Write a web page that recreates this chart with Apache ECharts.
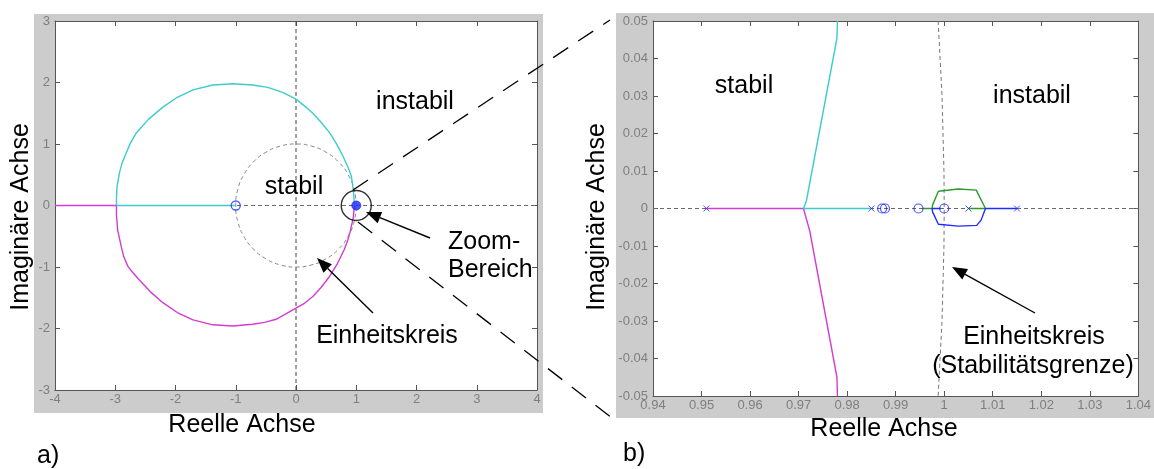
<!DOCTYPE html>
<html>
<head>
<meta charset="utf-8">
<script src="https://cdn.jsdelivr.net/npm/echarts@6/dist/echarts.min.js"></script>
<style>
  html, body { margin: 0; padding: 0; background: #fff; }
  #chart { width: 1154px; height: 469px; }
</style>
</head>
<body>
<div id="chart"></div>
<script>
  // ---- data ----
  // a) overview: root locus in the z-plane
  var leftUpperLocus = [[0.97,0],[0.96,0.15],[0.95,0.26],[0.92,0.47],[0.86,0.63],[0.78,0.8],[0.68,0.99],[0.56,1.18],[0.42,1.35],[0.28,1.5],
    [0.14,1.62],[0,1.73],[-0.22,1.84],[-0.47,1.92],[-0.72,1.96],[-1.05,1.98],[-1.38,1.96],[-1.71,1.88],[-1.97,1.76],[-2.21,1.6],
    [-2.45,1.4],[-2.65,1.18],[-2.75,1.01],[-2.82,0.85],[-2.89,0.68],[-2.93,0.53],[-2.97,0.31],[-2.98,0.12],[-2.98,0]];
  var leftLowerLocus = [[0.97,0],[0.96,-0.1],[0.95,-0.2],[0.9,-0.42],[0.86,-0.56],[0.8,-0.72],[0.69,-0.94],[0.56,-1.15],[0.42,-1.33],[0.28,-1.48],
    [0.14,-1.59],[0,-1.67],[-0.33,-1.85],[-0.52,-1.9],[-0.72,-1.93],[-1.05,-1.96],[-1.38,-1.94],[-1.71,-1.86],[-1.97,-1.74],[-2.21,-1.58],
    [-2.42,-1.4],[-2.6,-1.21],[-2.71,-1.09],[-2.79,-0.99],[-2.86,-0.83],[-2.9,-0.67],[-2.96,-0.4],[-2.98,-0.15],[-2.98,0]];
  var leftRealCyan = [[-2.98,0],[-1,0]];
  var leftRealMagenta = [[-4,0],[-2.98,0]];
  var leftZeros = [[-1,0]];
  var leftCluster = [[1,0]];
  var leftZoomArea = [[1,0]];
  var unitCircle = [[1,0],[0.9659,0.2588],[0.866,0.5],[0.7071,0.7071],[0.5,0.866],[0.2588,0.9659],[0,1],
    [-0.2588,0.9659],[-0.5,0.866],[-0.7071,0.7071],[-0.866,0.5],[-0.9659,0.2588],[-1,0],
    [-0.9659,-0.2588],[-0.866,-0.5],[-0.7071,-0.7071],[-0.5,-0.866],[-0.2588,-0.9659],[0,-1],
    [0.2588,-0.9659],[0.5,-0.866],[0.7071,-0.7071],[0.866,-0.5],[0.9659,-0.2588],[1,0]];

  // b) zoom around z = 1
  var rightMagenta = [[0.951,0],[0.971,0],[0.9723,-0.006],[0.9779,-0.045],[0.978,-0.05]];
  var rightCyan = [[0.985,0],[0.971,0],[0.9716,0.002],[0.9779,0.0454],[0.978,0.05]];
  var rightGreen = [[1.005,0],[1.0085,0],[1.0066,0.0049],[1.0029,0.0052],[0.9988,0.0046],[0.9976,0.0009],[0.9975,0],[0.9955,0]];
  var rightBlue = [[1.015,0],[1.0085,0],[1.0076,-0.0031],[1.0067,-0.0045],[1.0029,-0.0047],[0.9988,-0.0042],[0.9976,-0.0009],[0.9975,0],[0.9993,0]];
  var rightPoles = [[0.951,0],[0.985,0],[1.005,0],[1.015,0]];
  var rightZeros = [[0.9872,0],[0.9878,0],[0.9947,0],[1.0,0]];
  var rightUnitCircle = [[0.99875,0.05],[0.99955,0.03],[0.99995,0.01],[1,0],[0.99995,-0.01],[0.99955,-0.03],[0.99875,-0.05]];

  var leftXTicks = { min: -4, max: 4, interval: 1 };
  var leftYTicks = { min: -3, max: 3, interval: 1 };
  var rightXTicks = { min: 0.94, max: 1.04, interval: 0.01 };
  var rightYTicks = { min: -0.05, max: 0.05, interval: 0.01 };

  var FONT = '"Liberation Sans", Arial, sans-serif';
  var CYAN = '#3ccccc', MAGENTA = '#d23cd2', BLUE = '#1f2cff', GREEN = '#2e9a2e';
  var crossPath = 'path://M0,0L10,10M10,0L0,10';

  function fmt(v) { return String(+(+v).toFixed(2)); }

  function xAxis(grid, pos, t) {
    return {
      type: 'value', gridIndex: grid, position: pos, min: t.min, max: t.max, interval: t.interval,
      axisLine: { show: true, onZero: false, lineStyle: { color: '#555', width: 1 } },
      axisTick: { show: true, inside: true, length: 5, lineStyle: { color: '#555' } },
      axisLabel: { show: pos === 'bottom', color: '#7f7f7f', fontSize: 13, fontFamily: FONT, margin: 3, formatter: fmt },
      splitLine: { show: false }
    };
  }
  function yAxis(grid, pos, t) {
    return {
      type: 'value', gridIndex: grid, position: pos, min: t.min, max: t.max, interval: t.interval,
      axisLine: { show: true, onZero: false, lineStyle: { color: '#555', width: 1 } },
      axisTick: { show: true, inside: true, length: 5, lineStyle: { color: '#555' } },
      axisLabel: { show: pos === 'left', color: '#7f7f7f', fontSize: 13, fontFamily: FONT, margin: 5, formatter: fmt },
      splitLine: { show: false }
    };
  }

  function line(ax, data, color) {
    return {
      type: 'line', xAxisIndex: ax, yAxisIndex: ax, data: data, symbol: 'none', silent: true,
      lineStyle: { color: color, width: 1.4 }, z: 3
    };
  }
  function dashed(ax, data, color) {
    return {
      type: 'line', xAxisIndex: ax, yAxisIndex: ax, data: data, symbol: 'none', silent: true, smooth: ax === 0 && data.length > 2,
      lineStyle: { color: color, width: 1, type: [4, 3] }, z: 2
    };
  }
  function marks(ax, data, symbol, size, style) {
    return {
      type: 'scatter', xAxisIndex: ax, yAxisIndex: ax, data: data, symbol: symbol, symbolSize: size, silent: true,
      itemStyle: style, z: 5
    };
  }

  // ---- annotations (pixel layout of the figure) ----
  function text(str, x, y, align, rot) {
    return {
      type: 'text', x: x, y: y, rotation: rot || 0, z: 100,
      style: { text: str, font: '25px ' + FONT, fill: '#000', align: align || 'center', verticalAlign: 'middle',
        textAlign: align || 'center', textVerticalAlign: 'middle' }
    };
  }
  function arrow(x1, y1, x2, y2) {
    var a = Math.atan2(y2 - y1, x2 - x1), L = 15, W = 6;
    var bx = x2 - L * Math.cos(a), by = y2 - L * Math.sin(a);
    return [
      { type: 'line', z: 100, shape: { x1: x1, y1: y1, x2: bx, y2: by }, style: { stroke: '#000', lineWidth: 1.4 } },
      { type: 'polygon', z: 100, shape: { points: [[x2, y2],
        [bx + W * Math.sin(a), by - W * Math.cos(a)], [bx - W * Math.sin(a), by + W * Math.cos(a)]] },
        style: { fill: '#000' } }
    ];
  }

  var graphics = [
    { type: 'rect', z: -10, shape: { x: 34, y: 14, width: 509, height: 399 }, style: { fill: '#cccccc' } },
    { type: 'rect', z: -10, shape: { x: 616, y: 13, width: 538, height: 405 }, style: { fill: '#cccccc' } },
    { type: 'line', z: 100, shape: { x1: 353, y1: 190, x2: 610, y2: 20 }, style: { stroke: '#000', lineWidth: 1.3, lineDash: [18, 12] } },
    { type: 'line', z: 100, shape: { x1: 358, y1: 222, x2: 612, y2: 418 }, style: { stroke: '#000', lineWidth: 1.3, lineDash: [18, 12] } },
    text('instabil', 415, 102),
    text('stabil', 294, 187),
    text('Zoom-', 448, 242, 'left'),
    text('Bereich', 448, 270, 'left'),
    text('Einheitskreis', 387, 336),
    text('stabil', 744, 86),
    text('instabil', 1032, 96),
    text('Einheitskreis', 1034, 337),
    text('(Stabilitätsgrenze)', 1033, 366),
    text('Reelle Achse', 242, 425),
    text('Reelle Achse', 884, 429),
    text('Imaginäre Achse', 21, 217, 'center', Math.PI / 2),
    text('Imaginäre Achse', 597, 217, 'center', Math.PI / 2),
    text('a)', 37, 456, 'left'),
    text('b)', 623, 454, 'left')
  ].concat(arrow(430, 238, 366, 212), arrow(373, 313, 317, 258), arrow(1035, 313, 952, 267));

  var option = {
    animation: false,
    backgroundColor: '#fff',
    grid: [
      { left: 55, top: 21, width: 482, height: 369, show: true, backgroundColor: '#fff', borderWidth: 0 },
      { left: 653, top: 21, width: 491, height: 375, show: true, backgroundColor: '#fff', borderWidth: 0 }
    ],
    xAxis: [xAxis(0, 'bottom', leftXTicks), xAxis(0, 'top', leftXTicks), xAxis(1, 'bottom', rightXTicks), xAxis(1, 'top', rightXTicks)],
    yAxis: [yAxis(0, 'left', leftYTicks), yAxis(0, 'right', leftYTicks), yAxis(1, 'left', rightYTicks), yAxis(1, 'right', rightYTicks)],
    graphic: graphics,
    series: [
      // a)
      dashed(0, [[-4, 0], [4, 0]], '#6a6a6a'),
      dashed(0, [[0, -3], [0, 3]], '#444'),
      dashed(0, unitCircle, '#888'),
      line(0, leftUpperLocus, CYAN),
      line(0, leftLowerLocus, MAGENTA),
      line(0, leftRealCyan, CYAN),
      line(0, leftRealMagenta, MAGENTA),
      marks(0, leftZeros, 'circle', 9, { color: 'transparent', borderColor: BLUE, borderWidth: 1.3 }),
      marks(0, leftCluster, 'circle', 9, { color: BLUE, borderColor: BLUE, borderWidth: 1 }),
      marks(0, leftZoomArea, 'circle', 30, { color: 'transparent', borderColor: '#000', borderWidth: 1.4 }),
      // b)
      dashed(2, [[0.94, 0], [1.04, 0]], '#6a6a6a'),
      dashed(2, rightUnitCircle, '#777'),
      line(2, rightMagenta, MAGENTA),
      line(2, rightCyan, CYAN),
      line(2, rightGreen, GREEN),
      line(2, rightBlue, BLUE),
      marks(2, rightPoles, crossPath, 6, { color: 'transparent', borderColor: BLUE, borderWidth: 1 }),
      marks(2, rightZeros, 'circle', 9, { color: 'transparent', borderColor: BLUE, borderWidth: 1.2 })
    ]
  };

  var myChart = echarts.init(document.getElementById('chart'));
  myChart.setOption(option);
</script>
</body>
</html>
